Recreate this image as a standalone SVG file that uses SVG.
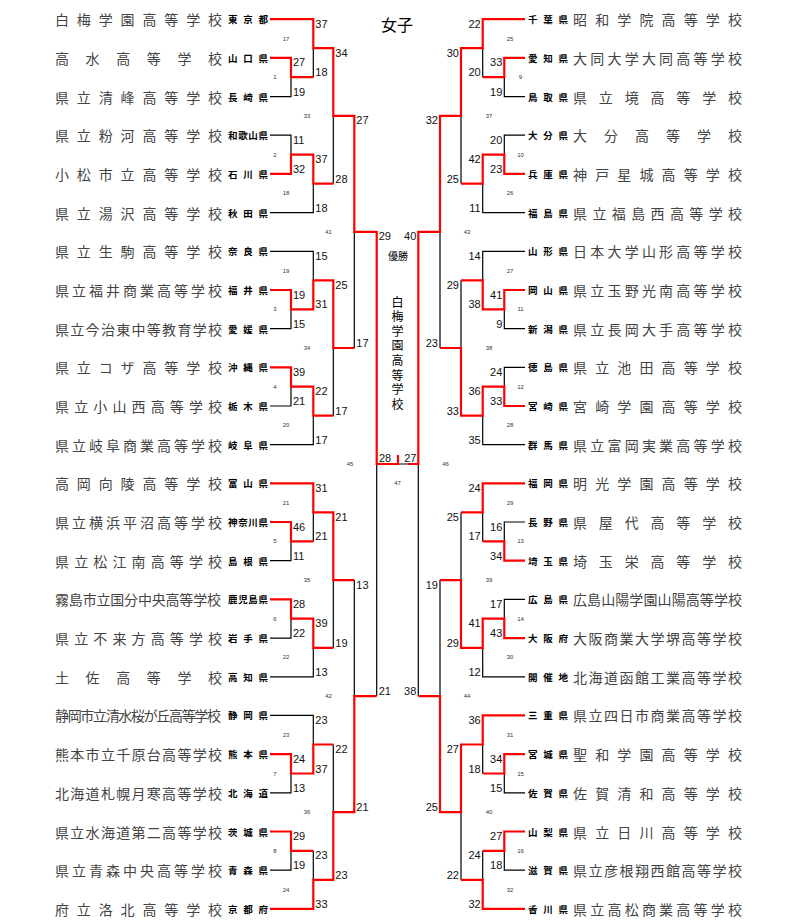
<svg xmlns="http://www.w3.org/2000/svg" width="800" height="923" viewBox="0 0 800 923">
<style>
.s{font-family:"Noto Sans CJK JP","Noto Sans CJK SC",sans-serif;font-size:14px;fill:#444;dominant-baseline:central}
.p{font-family:"Noto Sans CJK JP","Noto Sans CJK SC",sans-serif;font-size:9.5px;font-weight:bold;fill:#000;dominant-baseline:central}
.n{font-family:"Liberation Sans",Arial,sans-serif;font-size:11px;fill:#111;dominant-baseline:central}
.e{text-anchor:end}
.m{font-family:"Liberation Sans",Arial,sans-serif;font-size:6px;fill:#333;text-anchor:middle;dominant-baseline:central}
.c{font-family:"Noto Sans CJK JP","Noto Sans CJK SC",sans-serif;fill:#000;text-anchor:middle;dominant-baseline:central}
.k{fill:none;stroke:#000;stroke-width:1.2}
.r{fill:none;stroke:#ff0000;stroke-width:2.2;stroke-linejoin:miter}
</style>
<rect width="800" height="923" fill="#fff"/>
<g id="title"><text class="c" x="397" y="24" font-size="16">女子</text></g>
<g id="champion">
<text class="c" x="398" y="255" font-size="10">優勝</text>
<text class="c" font-size="12" x="397.5 397.5 397.5 397.5 397.5 397.5 397.5 397.5" y="301 315.6 330.2 344.8 359.4 374 388.6 403.2">白梅学園高等学校</text>
</g>
<g id="left-teams">
<g id="L0"><text class="s" x="55" y="19.2" textLength="167" lengthAdjust="spacing">白梅学園高等学校</text><text class="p" x="228" y="19.2" textLength="40" lengthAdjust="spacing">東京都</text></g>
<g id="L1"><text class="s" x="55" y="57.9" textLength="167" lengthAdjust="spacing">高水高等学校</text><text class="p" x="228" y="57.9" textLength="40" lengthAdjust="spacing">山口県</text></g>
<g id="L2"><text class="s" x="55" y="96.6" textLength="167" lengthAdjust="spacing">県立清峰高等学校</text><text class="p" x="228" y="96.6" textLength="40" lengthAdjust="spacing">長崎県</text></g>
<g id="L3"><text class="s" x="55" y="135.2" textLength="167" lengthAdjust="spacing">県立粉河高等学校</text><text class="p" x="228" y="135.2" textLength="40" lengthAdjust="spacing">和歌山県</text></g>
<g id="L4"><text class="s" x="55" y="173.9" textLength="167" lengthAdjust="spacing">小松市立高等学校</text><text class="p" x="228" y="173.9" textLength="40" lengthAdjust="spacing">石川県</text></g>
<g id="L5"><text class="s" x="55" y="212.6" textLength="167" lengthAdjust="spacing">県立湯沢高等学校</text><text class="p" x="228" y="212.6" textLength="40" lengthAdjust="spacing">秋田県</text></g>
<g id="L6"><text class="s" x="55" y="251.3" textLength="167" lengthAdjust="spacing">県立生駒高等学校</text><text class="p" x="228" y="251.3" textLength="40" lengthAdjust="spacing">奈良県</text></g>
<g id="L7"><text class="s" x="55" y="290" textLength="167" lengthAdjust="spacing">県立福井商業高等学校</text><text class="p" x="228" y="290" textLength="40" lengthAdjust="spacing">福井県</text></g>
<g id="L8"><text class="s" x="55" y="328.6" textLength="167" lengthAdjust="spacing">県立今治東中等教育学校</text><text class="p" x="228" y="328.6" textLength="40" lengthAdjust="spacing">愛媛県</text></g>
<g id="L9"><text class="s" x="55" y="367.3" textLength="167" lengthAdjust="spacing">県立コザ高等学校</text><text class="p" x="228" y="367.3" textLength="40" lengthAdjust="spacing">沖縄県</text></g>
<g id="L10"><text class="s" x="55" y="406" textLength="167" lengthAdjust="spacing">県立小山西高等学校</text><text class="p" x="228" y="406" textLength="40" lengthAdjust="spacing">栃木県</text></g>
<g id="L11"><text class="s" x="55" y="444.7" textLength="167" lengthAdjust="spacing">県立岐阜商業高等学校</text><text class="p" x="228" y="444.7" textLength="40" lengthAdjust="spacing">岐阜県</text></g>
<g id="L12"><text class="s" x="55" y="483.4" textLength="167" lengthAdjust="spacing">高岡向陵高等学校</text><text class="p" x="228" y="483.4" textLength="40" lengthAdjust="spacing">富山県</text></g>
<g id="L13"><text class="s" x="55" y="522" textLength="167" lengthAdjust="spacing">県立横浜平沼高等学校</text><text class="p" x="228" y="522" textLength="40" lengthAdjust="spacing">神奈川県</text></g>
<g id="L14"><text class="s" x="55" y="560.7" textLength="167" lengthAdjust="spacing">県立松江南高等学校</text><text class="p" x="228" y="560.7" textLength="40" lengthAdjust="spacing">島根県</text></g>
<g id="L15"><text class="s" x="55" y="599.4" font-size="13.5" textLength="166" lengthAdjust="spacing">霧島市立国分中央高等学校</text><text class="p" x="228" y="599.4" textLength="40" lengthAdjust="spacing">鹿児島県</text></g>
<g id="L16"><text class="s" x="55" y="638.1" textLength="167" lengthAdjust="spacing">県立不来方高等学校</text><text class="p" x="228" y="638.1" textLength="40" lengthAdjust="spacing">岩手県</text></g>
<g id="L17"><text class="s" x="55" y="676.8" textLength="167" lengthAdjust="spacing">土佐高等学校</text><text class="p" x="228" y="676.8" textLength="40" lengthAdjust="spacing">高知県</text></g>
<g id="L18"><text class="s" x="55" y="715.4" font-size="12.5" textLength="166" lengthAdjust="spacing">静岡市立清水桜が丘高等学校</text><text class="p" x="228" y="715.4" textLength="40" lengthAdjust="spacing">静岡県</text></g>
<g id="L19"><text class="s" x="55" y="754.1" textLength="167" lengthAdjust="spacing">熊本市立千原台高等学校</text><text class="p" x="228" y="754.1" textLength="40" lengthAdjust="spacing">熊本県</text></g>
<g id="L20"><text class="s" x="55" y="792.8" textLength="167" lengthAdjust="spacing">北海道札幌月寒高等学校</text><text class="p" x="228" y="792.8" textLength="40" lengthAdjust="spacing">北海道</text></g>
<g id="L21"><text class="s" x="55" y="831.5" textLength="167" lengthAdjust="spacing">県立水海道第二高等学校</text><text class="p" x="228" y="831.5" textLength="40" lengthAdjust="spacing">茨城県</text></g>
<g id="L22"><text class="s" x="55" y="870.2" textLength="167" lengthAdjust="spacing">県立青森中央高等学校</text><text class="p" x="228" y="870.2" textLength="40" lengthAdjust="spacing">青森県</text></g>
<g id="L23"><text class="s" x="55" y="908.8" textLength="167" lengthAdjust="spacing">府立洛北高等学校</text><text class="p" x="228" y="908.8" textLength="40" lengthAdjust="spacing">京都府</text></g>
</g>
<g id="right-teams">
<g id="R0"><text class="p" x="528" y="19.2" textLength="40" lengthAdjust="spacing">千葉県</text><text class="s" x="573" y="19.2" textLength="169" lengthAdjust="spacing">昭和学院高等学校</text></g>
<g id="R1"><text class="p" x="528" y="57.9" textLength="40" lengthAdjust="spacing">愛知県</text><text class="s" x="573" y="57.9" textLength="169" lengthAdjust="spacing">大同大学大同高等学校</text></g>
<g id="R2"><text class="p" x="528" y="96.6" textLength="40" lengthAdjust="spacing">鳥取県</text><text class="s" x="573" y="96.6" textLength="169" lengthAdjust="spacing">県立境高等学校</text></g>
<g id="R3"><text class="p" x="528" y="135.2" textLength="40" lengthAdjust="spacing">大分県</text><text class="s" x="573" y="135.2" textLength="169" lengthAdjust="spacing">大分高等学校</text></g>
<g id="R4"><text class="p" x="528" y="173.9" textLength="40" lengthAdjust="spacing">兵庫県</text><text class="s" x="573" y="173.9" textLength="169" lengthAdjust="spacing">神戸星城高等学校</text></g>
<g id="R5"><text class="p" x="528" y="212.6" textLength="40" lengthAdjust="spacing">福島県</text><text class="s" x="573" y="212.6" textLength="169" lengthAdjust="spacing">県立福島西高等学校</text></g>
<g id="R6"><text class="p" x="528" y="251.3" textLength="40" lengthAdjust="spacing">山形県</text><text class="s" x="573" y="251.3" textLength="169" lengthAdjust="spacing">日本大学山形高等学校</text></g>
<g id="R7"><text class="p" x="528" y="290" textLength="40" lengthAdjust="spacing">岡山県</text><text class="s" x="573" y="290" textLength="169" lengthAdjust="spacing">県立玉野光南高等学校</text></g>
<g id="R8"><text class="p" x="528" y="328.6" textLength="40" lengthAdjust="spacing">新潟県</text><text class="s" x="573" y="328.6" textLength="169" lengthAdjust="spacing">県立長岡大手高等学校</text></g>
<g id="R9"><text class="p" x="528" y="367.3" textLength="40" lengthAdjust="spacing">徳島県</text><text class="s" x="573" y="367.3" textLength="169" lengthAdjust="spacing">県立池田高等学校</text></g>
<g id="R10"><text class="p" x="528" y="406" textLength="40" lengthAdjust="spacing">宮崎県</text><text class="s" x="573" y="406" textLength="169" lengthAdjust="spacing">宮崎学園高等学校</text></g>
<g id="R11"><text class="p" x="528" y="444.7" textLength="40" lengthAdjust="spacing">群馬県</text><text class="s" x="573" y="444.7" textLength="169" lengthAdjust="spacing">県立富岡実業高等学校</text></g>
<g id="R12"><text class="p" x="528" y="483.4" textLength="40" lengthAdjust="spacing">福岡県</text><text class="s" x="573" y="483.4" textLength="169" lengthAdjust="spacing">明光学園高等学校</text></g>
<g id="R13"><text class="p" x="528" y="522" textLength="40" lengthAdjust="spacing">長野県</text><text class="s" x="573" y="522" textLength="169" lengthAdjust="spacing">県屋代高等学校</text></g>
<g id="R14"><text class="p" x="528" y="560.7" textLength="40" lengthAdjust="spacing">埼玉県</text><text class="s" x="573" y="560.7" textLength="169" lengthAdjust="spacing">埼玉栄高等学校</text></g>
<g id="R15"><text class="p" x="528" y="599.4" textLength="40" lengthAdjust="spacing">広島県</text><text class="s" x="573" y="599.4" textLength="169" lengthAdjust="spacing">広島山陽学園山陽高等学校</text></g>
<g id="R16"><text class="p" x="528" y="638.1" textLength="40" lengthAdjust="spacing">大阪府</text><text class="s" x="573" y="638.1" textLength="169" lengthAdjust="spacing">大阪商業大学堺高等学校</text></g>
<g id="R17"><text class="p" x="528" y="676.8" textLength="40" lengthAdjust="spacing">開催地</text><text class="s" x="573" y="676.8" textLength="169" lengthAdjust="spacing">北海道函館工業高等学校</text></g>
<g id="R18"><text class="p" x="528" y="715.4" textLength="40" lengthAdjust="spacing">三重県</text><text class="s" x="573" y="715.4" textLength="169" lengthAdjust="spacing">県立四日市商業高等学校</text></g>
<g id="R19"><text class="p" x="528" y="754.1" textLength="40" lengthAdjust="spacing">宮城県</text><text class="s" x="573" y="754.1" textLength="169" lengthAdjust="spacing">聖和学園高等学校</text></g>
<g id="R20"><text class="p" x="528" y="792.8" textLength="40" lengthAdjust="spacing">佐賀県</text><text class="s" x="573" y="792.8" textLength="169" lengthAdjust="spacing">佐賀清和高等学校</text></g>
<g id="R21"><text class="p" x="528" y="831.5" textLength="40" lengthAdjust="spacing">山梨県</text><text class="s" x="573" y="831.5" textLength="169" lengthAdjust="spacing">県立日川高等学校</text></g>
<g id="R22"><text class="p" x="528" y="870.2" textLength="40" lengthAdjust="spacing">滋賀県</text><text class="s" x="573" y="870.2" textLength="169" lengthAdjust="spacing">県立彦根翔西館高等学校</text></g>
<g id="R23"><text class="p" x="528" y="908.8" textLength="40" lengthAdjust="spacing">香川県</text><text class="s" x="573" y="908.8" textLength="169" lengthAdjust="spacing">県立高松商業高等学校</text></g>
</g>
<g id="connectors">
<path class="k" d="M270,96.6H291V77.2M313.3,48.2V77.2M270,135.2H291V154.6M270,212.6H313.3V183.6M333.3,115.9V183.6M270,251.3H313.3V280.3M270,328.6H291V309.3M270,406H291V386.7M270,444.7H313.3V415.7M333.3,348V415.7M354.3,231.9V348M270,560.7H291V541.4M313.3,512.4V541.4M270,638.1H291V618.7M270,676.8H313.3V647.8M333.3,580.1V647.8M354.3,580.1V696.1M270,715.4H313.3V744.5M270,792.8H291V773.5M270,870.2H291V850.8M313.3,850.8V879.8M333.3,744.5V812.1M376.7,464V696.1"/>
<path class="k" d="M525,96.6H504.3V77.2M482.7,48.2V77.2M525,135.2H504.3V154.6M525,212.6H482.7V183.6M461,115.9V183.6M525,251.3H482.7V280.3M525,328.6H504.3V309.3M461,280.3V348M525,367.3H504.3V386.7M525,444.7H482.7V415.7M440,231.9V348M525,522H504.3V541.4M482.7,512.4V541.4M461,512.4V580.1M525,599.4H504.3V618.7M525,676.8H482.7V647.8M440,580.1V696.1M525,792.8H504.3V773.5M482.7,744.5V773.5M525,870.2H504.3V850.8M482.7,850.8V879.8M461,812.1V879.8M418.3,464V696.1M398,464H408"/>
<path class="r" d="M270,19.2H313.3V48.2H333.3V115.9H354.3V231.9H376.7V464H398V455"/>
<path class="r" d="M270,57.9H291V77.2H313.3"/>
<path class="r" d="M270,173.9H291V154.6H313.3V183.6H333.3"/>
<path class="r" d="M270,290H291V309.3H313.3V280.3H333.3V348H354.3"/>
<path class="r" d="M270,367.3H291V386.7H313.3V415.7H333.3"/>
<path class="r" d="M270,483.4H313.3V512.4H333.3V580.1H354.3"/>
<path class="r" d="M270,522H291V541.4H313.3"/>
<path class="r" d="M270,599.4H291V618.7H313.3V647.8H333.3"/>
<path class="r" d="M270,754.1H291V773.5H313.3V744.5H333.3"/>
<path class="r" d="M270,831.5H291V850.8H313.3"/>
<path class="r" d="M270,908.8H313.3V879.8H333.3V812.1H354.3V696.1H376.7"/>
<path class="r" d="M525,19.2H482.7V48.2H461V115.9H440V231.9H418.3V464H408"/>
<path class="r" d="M525,57.9H504.3V77.2H482.7"/>
<path class="r" d="M525,173.9H504.3V154.6H482.7V183.6H461"/>
<path class="r" d="M525,290H504.3V309.3H482.7V280.3H461"/>
<path class="r" d="M525,406H504.3V386.7H482.7V415.7H461V348H440"/>
<path class="r" d="M525,483.4H482.7V512.4H461"/>
<path class="r" d="M525,560.7H504.3V541.4H482.7"/>
<path class="r" d="M525,638.1H504.3V618.7H482.7V647.8H461V580.1H440"/>
<path class="r" d="M525,715.4H482.7V744.5H461V812.1H440V696.1H418.3"/>
<path class="r" d="M525,754.1H504.3V773.5H482.7"/>
<path class="r" d="M525,831.5H504.3V850.8H482.7"/>
<path class="r" d="M525,908.8H482.7V879.8H461"/>
</g>
<g id="scores-left" class="n">
<text x="293" y="62.4">27</text><text x="293" y="91.6">19</text>
<text x="315.3" y="23.7">37</text><text x="315.3" y="72.2">18</text>
<text x="293" y="139.7">11</text><text x="293" y="168.9">32</text>
<text x="315.3" y="159.1">37</text><text x="315.3" y="207.6">18</text>
<text x="335.3" y="52.7">34</text><text x="335.3" y="178.6">28</text>
<text x="293" y="294.5">19</text><text x="293" y="323.6">15</text>
<text x="315.3" y="255.8">15</text><text x="315.3" y="304.3">31</text>
<text x="293" y="371.8">39</text><text x="293" y="401">21</text>
<text x="315.3" y="391.2">22</text><text x="315.3" y="439.7">17</text>
<text x="335.3" y="284.8">25</text><text x="335.3" y="410.7">17</text>
<text x="356.3" y="120.4">27</text><text x="356.3" y="343">17</text>
<text x="293" y="526.5">46</text><text x="293" y="555.7">11</text>
<text x="315.3" y="487.9">31</text><text x="315.3" y="536.4">21</text>
<text x="293" y="603.9">28</text><text x="293" y="633.1">22</text>
<text x="315.3" y="623.2">39</text><text x="315.3" y="671.8">13</text>
<text x="335.3" y="516.9">21</text><text x="335.3" y="642.8">19</text>
<text x="293" y="758.6">24</text><text x="293" y="787.8">13</text>
<text x="315.3" y="719.9">23</text><text x="315.3" y="768.5">37</text>
<text x="293" y="836">29</text><text x="293" y="865.2">19</text>
<text x="315.3" y="855.3">23</text><text x="315.3" y="903.8">33</text>
<text x="335.3" y="749">22</text><text x="335.3" y="874.8">23</text>
<text x="356.3" y="584.6">13</text><text x="356.3" y="807.1">21</text>
<text x="378.7" y="236.4">29</text><text x="378.7" y="691.1">21</text>
<text x="379" y="458">28</text>
</g>
<g id="scores-right" class="n e">
<text x="502.3" y="62.4">33</text><text x="502.3" y="91.6">19</text>
<text x="480.7" y="23.7">22</text><text x="480.7" y="72.2">20</text>
<text x="502.3" y="139.7">20</text><text x="502.3" y="168.9">23</text>
<text x="480.7" y="159.1">42</text><text x="480.7" y="207.6">11</text>
<text x="459" y="52.7">30</text><text x="459" y="178.6">25</text>
<text x="502.3" y="294.5">41</text><text x="502.3" y="323.6">9</text>
<text x="480.7" y="255.8">14</text><text x="480.7" y="304.3">38</text>
<text x="502.3" y="371.8">24</text><text x="502.3" y="401">33</text>
<text x="480.7" y="391.2">36</text><text x="480.7" y="439.7">35</text>
<text x="459" y="284.8">29</text><text x="459" y="410.7">33</text>
<text x="438" y="120.4">32</text><text x="438" y="343">23</text>
<text x="502.3" y="526.5">16</text><text x="502.3" y="555.7">34</text>
<text x="480.7" y="487.9">24</text><text x="480.7" y="536.4">17</text>
<text x="502.3" y="603.9">17</text><text x="502.3" y="633.1">43</text>
<text x="480.7" y="623.2">41</text><text x="480.7" y="671.8">12</text>
<text x="459" y="516.9">25</text><text x="459" y="642.8">29</text>
<text x="502.3" y="758.6">34</text><text x="502.3" y="787.8">15</text>
<text x="480.7" y="719.9">36</text><text x="480.7" y="768.5">18</text>
<text x="502.3" y="836">27</text><text x="502.3" y="865.2">18</text>
<text x="480.7" y="855.3">24</text><text x="480.7" y="903.8">32</text>
<text x="459" y="749">27</text><text x="459" y="874.8">22</text>
<text x="438" y="584.6">19</text><text x="438" y="807.1">25</text>
<text x="416.3" y="236.4">40</text><text x="416.3" y="691.1">38</text>
<text x="416.5" y="458">27</text>
</g>
<g id="match-numbers" class="m">
<text x="275" y="77.2">1</text><text x="275" y="154.6">2</text><text x="275" y="309.3">3</text><text x="275" y="386.7">4</text>
<text x="275" y="541.4">5</text><text x="275" y="618.7">6</text><text x="275" y="773.5">7</text><text x="275" y="850.8">8</text>
<text x="520.5" y="77.2">9</text><text x="520.5" y="154.6">10</text><text x="520.5" y="309.3">11</text><text x="520.5" y="386.7">12</text>
<text x="520.5" y="541.4">13</text><text x="520.5" y="618.7">14</text><text x="520.5" y="773.5">15</text><text x="520.5" y="850.8">16</text>
<text x="286" y="38.5">17</text><text x="286" y="193.3">18</text><text x="286" y="270.6">19</text><text x="286" y="425.3">20</text>
<text x="286" y="502.7">21</text><text x="286" y="657.4">22</text><text x="286" y="734.8">23</text><text x="286" y="889.5">24</text>
<text x="510" y="38.5">25</text><text x="510" y="193.3">26</text><text x="510" y="270.6">27</text><text x="510" y="425.3">28</text>
<text x="510" y="502.7">29</text><text x="510" y="657.4">30</text><text x="510" y="734.8">31</text><text x="510" y="889.5">32</text>
<text x="307" y="115.9">33</text><text x="307" y="348">34</text><text x="307" y="580.1">35</text><text x="307" y="812.1">36</text>
<text x="489" y="115.9">37</text><text x="489" y="348">38</text><text x="489" y="580.1">39</text><text x="489" y="812.1">40</text>
<text x="328.5" y="231.9">41</text><text x="328.5" y="696.1">42</text>
<text x="467" y="231.9">43</text><text x="467" y="696.1">44</text>
<text x="350" y="464">45</text><text x="445.5" y="464">46</text>
<text x="397.5" y="483">47</text>
</g>
</svg>
